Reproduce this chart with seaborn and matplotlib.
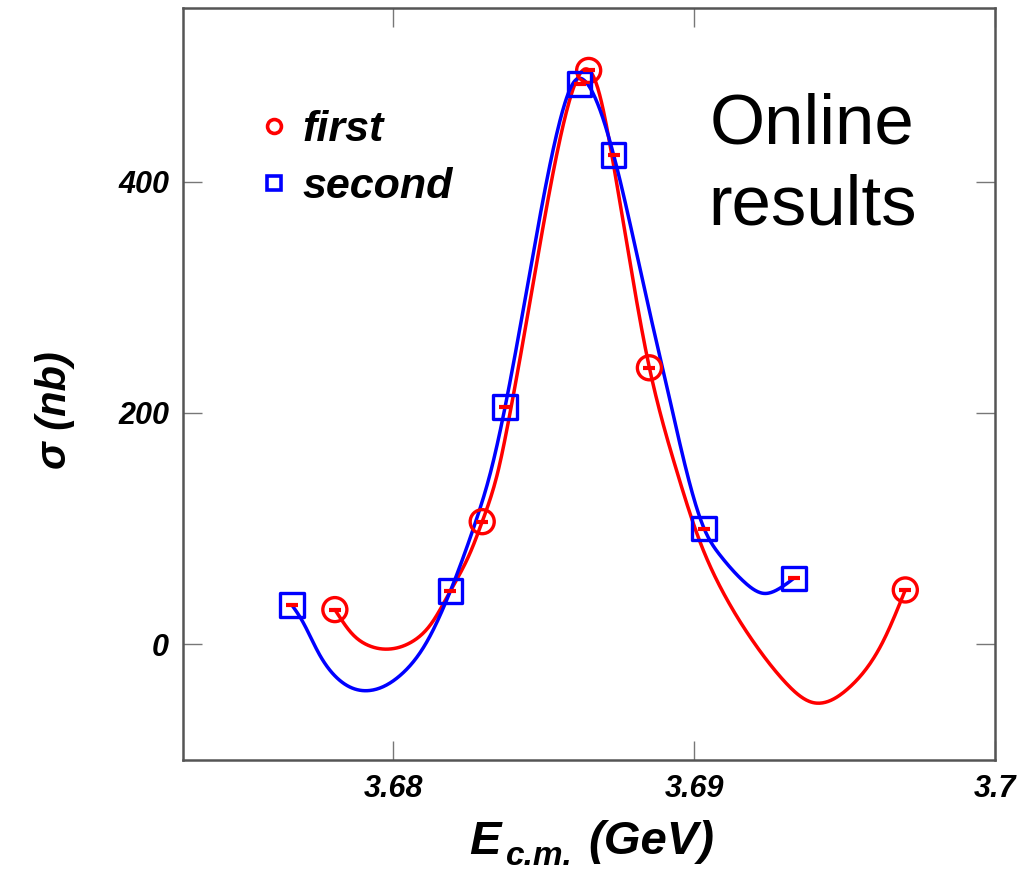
import numpy as np
import pandas as pd
import matplotlib
matplotlib.use("Agg")
import matplotlib.pyplot as plt
import seaborn as sns
from matplotlib.lines import Line2D

# ---- data ----
first_E = [3.67805, 3.68295, 3.68649, 3.68851, 3.69702]
first_sigma = [30, 106, 496, 239, 47]
second_E = [3.67662, 3.68189, 3.68371, 3.68619, 3.68732, 3.69033, 3.69331]
second_sigma = [34, 46, 205, 484, 423, 100, 57]

# smooth curves
first_curve_E = [3.67805, 3.67861, 3.67917, 3.67990, 3.68060, 3.68126, 3.68189,
                 3.68258, 3.68295, 3.68348, 3.68381, 3.68437, 3.68503, 3.68570,
                 3.68613, 3.68646, 3.68679, 3.68728, 3.68811, 3.68851,
                 3.68877, 3.68944, 3.69010, 3.69100, 3.69200, 3.69300, 3.69390,
                 3.69517, 3.69629, 3.69702]
first_curve_sigma = [30, 9.5, -1, -4, 2, 18, 46,
                     81, 106, 150, 191, 271, 369, 455,
                     490, 497, 481, 420, 293, 239,
                     210, 148, 95, 43, 1, -32, -50,
                     -37, 3, 47]
second_curve_E = [3.67662, 3.67695, 3.67752, 3.67808, 3.67917, 3.68026, 3.68106,
                  3.68189, 3.68272, 3.68324, 3.68371, 3.68447, 3.68503, 3.68556,
                  3.68603, 3.68646, 3.68732, 3.68788, 3.68844, 3.68901, 3.68950,
                  3.69033, 3.69086, 3.69166, 3.69232, 3.69275, 3.69331]
second_curve_sigma = [34, 21, -8, -28, -40, -26, 0,
                      46, 105, 150, 205, 312, 392, 455,
                      487, 484, 423, 362, 296, 232, 176,
                      100, 77, 54, 44, 47, 57]

x_ticks = [3.68, 3.69, 3.70]
x_tick_labels = ["3.68", "3.69", "3.7"]
y_ticks = [0, 200, 400]
y_tick_labels = ["0", "200", "400"]
series_names = ["first", "second"]

RED = "#ff0000"
BLUE = "#0000ff"


def smooth(x, y, n=600):
    """Natural cubic spline through the traced curve points (for drawing only)."""
    x = np.asarray(x, float)
    y = np.asarray(y, float)
    m = len(x)
    h = np.diff(x)
    A = np.zeros((m, m))
    b = np.zeros(m)
    A[0, 0] = 1
    A[-1, -1] = 1
    for i in range(1, m - 1):
        A[i, i - 1] = h[i - 1]
        A[i, i] = 2 * (h[i - 1] + h[i])
        A[i, i + 1] = h[i]
        b[i] = 6 * ((y[i + 1] - y[i]) / h[i] - (y[i] - y[i - 1]) / h[i - 1])
    M = np.linalg.solve(A, b)
    xs = np.linspace(x[0], x[-1], n)
    idx = np.clip(np.searchsorted(x, xs) - 1, 0, m - 2)
    x0, x1 = x[idx], x[idx + 1]
    hh = x1 - x0
    a0 = x1 - xs
    a1 = xs - x0
    ys = (M[idx] * a0**3 / (6 * hh) + M[idx + 1] * a1**3 / (6 * hh)
          + (y[idx] / hh - M[idx] * hh / 6) * a0
          + (y[idx + 1] / hh - M[idx + 1] * hh / 6) * a1)
    return pd.DataFrame({"E": xs, "sigma": ys})


sns.set_theme(style="white")
plt.rcParams['font.family'] = ['Liberation Sans', 'DejaVu Sans']
plt.rcParams['text.color'] = 'black'

fig = plt.figure(figsize=(10.31, 8.75), dpi=100)
ax = fig.add_axes([0.1775, 0.1314, 0.7875, 0.8595])

sns.lineplot(data=smooth(first_curve_E, first_curve_sigma), x="E", y="sigma", ax=ax,
             color=RED, lw=2.5, sort=False, estimator=None, zorder=2)
sns.lineplot(data=smooth(second_curve_E, second_curve_sigma), x="E", y="sigma", ax=ax,
             color=BLUE, lw=2.5, sort=False, estimator=None, zorder=3)

pts_first = pd.DataFrame({"E": first_E, "sigma": first_sigma})
pts_second = pd.DataFrame({"E": second_E, "sigma": second_sigma})
sns.scatterplot(data=pts_first, x="E", y="sigma", ax=ax, marker="o", s=300,
                facecolor="none", edgecolor=RED, linewidth=2.4, zorder=4)
sns.scatterplot(data=pts_second, x="E", y="sigma", ax=ax, marker="s", s=290,
                facecolor="none", edgecolor=BLUE, linewidth=2.4, zorder=5)
for df in (pts_first, pts_second):
    sns.scatterplot(data=df, x="E", y="sigma", ax=ax, marker="_", s=80,
                    color=RED, linewidth=3, zorder=6)

ax.set_xlim(3.673, 3.7)
ax.set_ylim(-100, 550)
ax.set_xticks(x_ticks)
ax.set_xticklabels(x_tick_labels)
ax.set_yticks(y_ticks)
ax.set_yticklabels(y_tick_labels)
ax.tick_params(direction="in", length=14, width=1, color="#777777",
               labelcolor="black", top=True, right=True, bottom=True, left=True,
               labelsize=22, pad=10)
for lab in ax.get_xticklabels() + ax.get_yticklabels():
    lab.set_fontweight("bold")
    lab.set_fontstyle("italic")
for sp in ax.spines.values():
    sp.set_color("#555555")
    sp.set_linewidth(1.8)

ax.set_xlabel("")
ax.set_ylabel("")
fig.text(0.0535, 0.531, "σ (nb)", rotation=90, ha="center", va="center",
         fontsize=30, fontweight="bold", fontstyle="italic")
# x label with subscript
fig.text(0.455, 0.024, "E", ha="left", va="baseline",
         fontsize=34, fontweight="bold", fontstyle="italic")
fig.text(0.491, 0.011, "c.m.", ha="left", va="baseline",
         fontsize=24, fontweight="bold", fontstyle="italic")
fig.text(0.571, 0.024, "(GeV)", ha="left", va="baseline",
         fontsize=34, fontweight="bold", fontstyle="italic")

ax.text(0.775, 0.79, "Online\nresults", transform=ax.transAxes,
        ha="center", va="center", fontsize=51, linespacing=1.28, color="black")

handles = [
    Line2D([], [], marker="o", ls="none", markerfacecolor="none",
           markeredgecolor=RED, markeredgewidth=2.6, markersize=10),
    Line2D([], [], marker="s", ls="none", markerfacecolor="none",
           markeredgecolor=BLUE, markeredgewidth=2.6, markersize=10),
]
leg = ax.legend(handles, series_names, loc="upper left",
                bbox_to_anchor=(0.038, 0.916), frameon=False,
                prop={"size": 31, "weight": "bold", "style": "italic"},
                handletextpad=0.15, labelspacing=0.4, handlelength=1.0,
                borderpad=0.4)

fig.savefig("out.png", dpi=100)
